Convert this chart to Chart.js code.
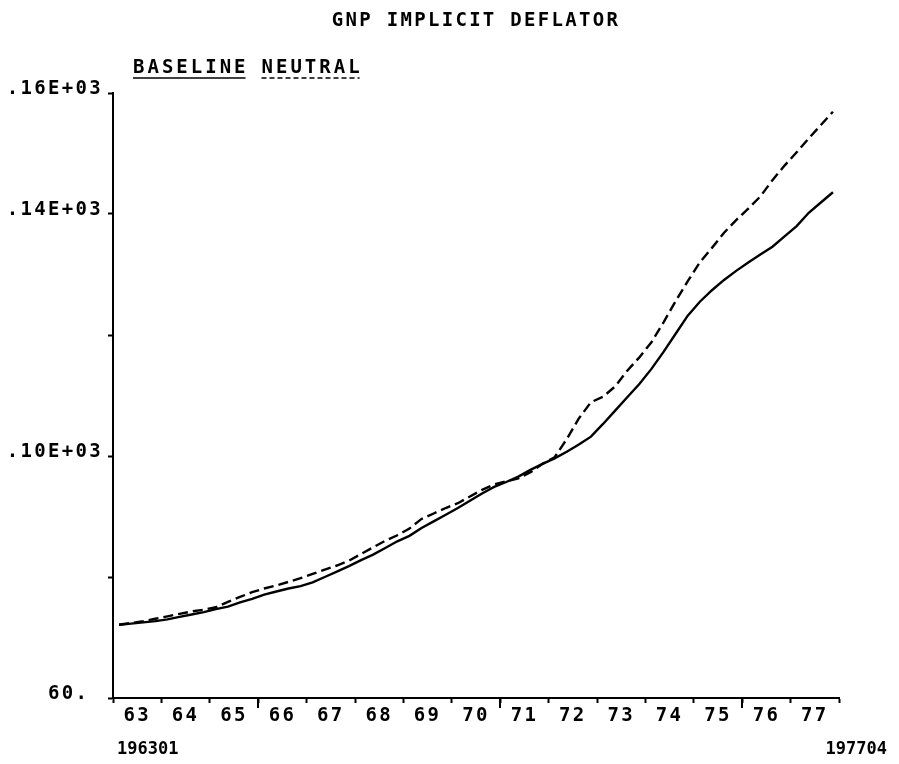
<!DOCTYPE html>
<html>
<head>
<meta charset="utf-8">
<script src="https://cdn.jsdelivr.net/npm/chart.js@4/dist/chart.umd.min.js"></script>
<style>
  html, body { margin: 0; padding: 0; background: #ffffff; }
  #wrap { width: 899px; height: 764px; }
</style>
</head>
<body>
<div id="wrap"><canvas id="c" width="899" height="764"></canvas></div>
<script>
// ---- data ----
const yearLabels = ['63','64','65','66','67','68','69','70','71','72','73','74','75','76','77'];
const majorYears = ['66','71','76'];
const periodStart = '196301';
const periodEnd = '197704';
const chartTitle = 'GNP IMPLICIT DEFLATOR';
const seriesNames = ['BASELINE', 'NEUTRAL'];

// quarterly values, 1963Q1 .. 1977Q4
const baseline = [
  72.1, 72.3, 72.5, 72.7, 73.0, 73.4, 73.8, 74.2,
  74.7, 75.1, 75.8, 76.4, 77.1, 77.6, 78.1, 78.5,
  79.1, 80.0, 80.9, 81.8, 82.8, 83.7, 84.8, 85.9,
  86.8, 88.1, 89.2, 90.3, 91.4, 92.6, 93.8, 94.9,
  95.7, 96.6, 97.7, 98.7, 99.6, 100.7, 101.9, 103.2,
  105.3, 107.5, 109.7, 111.9, 114.4, 117.2, 120.2, 123.2,
  125.5, 127.4, 129.1, 130.6, 132.0, 133.3, 134.6, 136.3,
  138.0, 140.2, 141.9, 143.6
];
const neutral = [
  72.1, 72.4, 72.7, 73.1, 73.5, 73.9, 74.3, 74.6,
  75.0, 75.9, 76.7, 77.5, 78.1, 78.6, 79.2, 79.8,
  80.5, 81.2, 81.9, 82.7, 83.8, 84.9, 86.0, 86.9,
  88.0, 89.6, 90.5, 91.4, 92.2, 93.3, 94.4, 95.3,
  95.8, 96.3, 97.3, 98.7, 99.8, 102.8, 106.2, 108.9,
  109.8, 111.5, 114.1, 116.3, 118.8, 122.1, 125.6, 128.9,
  132.0, 134.4, 136.9, 139.0, 140.9, 142.9, 145.6, 148.0,
  150.2, 152.5, 154.7, 156.9
];
const yTickText = { 160: '.16E+03', 140: '.14E+03', 100: '.10E+03', 60: '60. ' };

// ---- build library structures ----
const quarters = [];
yearLabels.forEach(y => { for (let q = 1; q <= 4; q++) quarters.push('19' + y + '0' + q); });
const toPoints = arr => arr.map((v, i) => ({ x: i, y: v }));

const FONT = "'DejaVu Sans Mono', 'Liberation Mono', monospace";
const SPACING = '2.3px';

const spacingPlugin = {
  id: 'spacing',
  beforeUpdate(chart) { chart.ctx.letterSpacing = SPACING; },
  beforeDraw(chart) { chart.ctx.letterSpacing = SPACING; }
};

const extrasPlugin = {
  id: 'extras',
  afterDraw(chart) {
    const ctx = chart.ctx;
    const xs = chart.scales.x;
    const area = chart.chartArea;
    ctx.save();
    // taller ticks every five years
    ctx.strokeStyle = '#000';
    ctx.lineWidth = 2;
    ctx.beginPath();
    majorYears.forEach(y => {
      const idx = yearLabels.indexOf(y) * 4 - 0.5;
      const px = Math.round(xs.getPixelForValue(idx));
      ctx.moveTo(px, area.bottom);
      ctx.lineTo(px, area.bottom + 10);
    });
    ctx.stroke();

    // legend: underlined names (solid / dashed)
    ctx.fillStyle = '#000';
    ctx.font = "bold 19px " + FONT;
    ctx.letterSpacing = '3.0px';
    ctx.textBaseline = 'middle';
    ctx.textAlign = 'left';
    const names = chart.data.datasets.map(d => d.label);
    let x = 133;
    const ty = 68, uy = 78;
    names.forEach((name, i) => {
      ctx.fillText(name, x, ty);
      const w = ctx.measureText(name).width - 3.0;
      ctx.beginPath();
      ctx.lineWidth = 1.6;
      ctx.setLineDash(chart.data.datasets[i].borderDash ? [5, 3] : []);
      ctx.moveTo(x, uy);
      ctx.lineTo(x + w, uy);
      ctx.stroke();
      ctx.setLineDash([]);
      x += w + 16;
    });

    // period endpoints
    ctx.letterSpacing = '0px';
    ctx.font = "bold 17px " + FONT;
    ctx.textAlign = 'left';
    ctx.fillText(periodStart, 117, 750);
    ctx.textAlign = 'right';
    ctx.fillText(periodEnd, 887, 750);
    ctx.restore();
  }
};

new Chart(document.getElementById('c'), {
  type: 'line',
  data: {
    datasets: [
      {
        label: seriesNames[0],
        data: toPoints(baseline),
        borderColor: '#000',
        borderWidth: 2.4,
        pointRadius: 0,
        tension: 0,
        fill: false
      },
      {
        label: seriesNames[1],
        data: toPoints(neutral),
        borderColor: '#000',
        borderWidth: 2.4,
        borderDash: [10, 5],
        pointRadius: 0,
        tension: 0,
        fill: false
      }
    ]
  },
  options: {
    responsive: false,
    animation: false,
    devicePixelRatio: 1,
    layout: { padding: { top: 0, right: 60, left: 0, bottom: 0 } },
    plugins: {
      legend: { display: false },
      tooltip: { enabled: false },
      title: {
        display: true,
        text: chartTitle,
        fullSize: false,
        color: '#000',
        font: { family: FONT, size: 19, weight: 'bold', lineHeight: 1.2 },
        padding: { top: 10, bottom: 60.2 }
      }
    },
    scales: {
      x: {
        type: 'linear',
        min: -0.5,
        max: quarters.length - 0.5,
        afterBuildTicks(scale) {
          const t = [];
          for (let k = 0; k <= yearLabels.length; k++) {
            t.push({ value: k * 4 - 0.5 });
            if (k < yearLabels.length) t.push({ value: k * 4 + 1.5 });
          }
          scale.ticks = t;
        },
        afterFit(scale) { scale.height = 66; },
        border: { display: true, color: '#000', width: 2 },
        grid: {
          drawOnChartArea: false,
          drawTicks: true,
          tickLength: 5,
          tickWidth: 2,
          tickColor: ctx => (ctx.tick && ((ctx.tick.value + 0.5) % 4 === 0)) ? '#000' : 'rgba(0,0,0,0)'
        },
        ticks: {
          autoSkip: false,
          maxRotation: 0,
          minRotation: 0,
          color: '#000',
          padding: 2,
          font: { family: FONT, size: 19, weight: 'bold' },
          callback(value) {
            const v = value - 1.5;
            if (v % 4 === 0) return yearLabels[v / 4];
            return '';
          }
        }
      },
      y: {
        type: 'linear',
        min: 60,
        max: 160,
        afterFit(scale) { scale.width = 113; },
        border: { display: true, color: '#000', width: 2 },
        grid: {
          drawOnChartArea: false,
          drawTicks: true,
          tickLength: 5,
          tickWidth: 2,
          tickColor: '#000'
        },
        ticks: {
          stepSize: 20,
          color: '#000',
          padding: 5,
          font: { family: FONT, size: 19, weight: 'bold', lineHeight: 0.37 },
          callback(value) {
            return [yTickText[value] || '', ''];
          }
        }
      }
    }
  },
  plugins: [spacingPlugin, extrasPlugin]
});
</script>
</body>
</html>
